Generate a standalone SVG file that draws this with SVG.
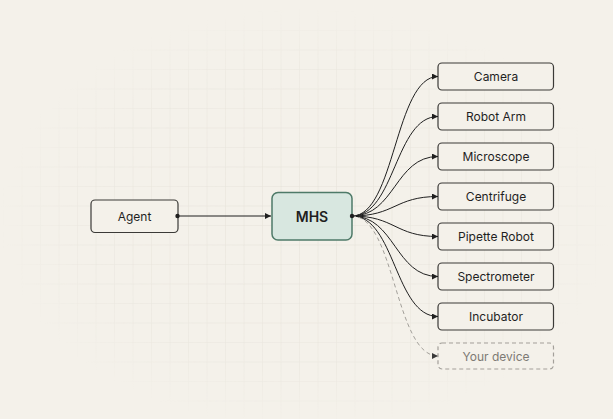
<svg xmlns="http://www.w3.org/2000/svg" width="613" height="419" viewBox="0 0 613 419">
<defs>
<pattern id="grid" width="18.5" height="19.5" patternUnits="userSpaceOnUse" x="4" y="-8">
<path d="M18.5 0V19.5M0 19.5H18.5" fill="none" stroke="#e4e0d7" stroke-width="1"/>
</pattern>
<radialGradient id="fade" cx="0.5" cy="0.52" r="0.5">
<stop offset="0" stop-color="#fff" stop-opacity="1"/>
<stop offset="0.75" stop-color="#fff" stop-opacity="0.6"/>
<stop offset="1" stop-color="#fff" stop-opacity="0"/>
</radialGradient>
<mask id="m"><rect width="613" height="419" fill="url(#fade)"/></mask>
<marker id="arr" viewBox="0 0 6 6" refX="6" refY="3" markerWidth="6" markerHeight="6" orient="auto" markerUnits="userSpaceOnUse">
<path d="M0 0L6 3L0 6Z" fill="#1f1f1f"/>
</marker>
<marker id="arrg" viewBox="0 0 6 6" refX="6" refY="3" markerWidth="6" markerHeight="6" orient="auto" markerUnits="userSpaceOnUse">
<path d="M0 0L6 3L0 6Z" fill="#3a3a3a"/>
</marker>
</defs>
<style>
.box{fill:#f4f1ea;stroke:#3b3a37;stroke-width:1.2}
.dash{fill:#f4f1ea;stroke:#a3a09a;stroke-width:1.2;stroke-dasharray:4 3}
.lbl{font-family:Inter,"Liberation Sans",sans-serif;font-size:12px;fill:#1f1f1f;text-anchor:middle;dominant-baseline:central}
.glbl{font-family:Inter,"Liberation Sans",sans-serif;font-size:12px;fill:#7d7a74;text-anchor:middle;dominant-baseline:central}
.c{fill:none;stroke:#1f1f1f;stroke-width:1}
.cd{fill:none;stroke:#a3a09a;stroke-width:1;stroke-dasharray:4 3}
</style>
<rect width="613" height="419" fill="#f4f1ea"/>
<rect width="613" height="419" fill="url(#grid)" mask="url(#m)"/>
<g id="agent"><rect class="box" x="91" y="200" width="87" height="32.5" rx="4"/><text class="lbl" x="134.5" y="216.5">Agent</text></g>
<g id="mhs"><rect x="272" y="192.5" width="80" height="47.5" rx="6" fill="#d8e7e0" stroke="#4e7a68" stroke-width="1.5"/><text class="lbl" x="312" y="216.5" style="font-size:14px;font-weight:600">MHS</text></g>
<g id="camera"><rect class="box" x="438" y="63" width="115.5" height="27" rx="4"/><text class="lbl" x="496" y="76.5">Camera</text></g>
<g id="robot-arm"><rect class="box" x="438" y="103" width="115.5" height="27" rx="4"/><text class="lbl" x="496" y="116.5">Robot Arm</text></g>
<g id="microscope"><rect class="box" x="438" y="143" width="115.5" height="27" rx="4"/><text class="lbl" x="496" y="156.5">Microscope</text></g>
<g id="centrifuge"><rect class="box" x="438" y="183" width="115.5" height="27" rx="4"/><text class="lbl" x="496" y="196.5">Centrifuge</text></g>
<g id="pipette-robot"><rect class="box" x="438" y="223" width="115.5" height="27" rx="4"/><text class="lbl" x="496" y="236.5">Pipette Robot</text></g>
<g id="spectrometer"><rect class="box" x="438" y="263" width="115.5" height="27" rx="4"/><text class="lbl" x="496" y="276.5">Spectrometer</text></g>
<g id="incubator"><rect class="box" x="438" y="303" width="115.5" height="27" rx="4"/><text class="lbl" x="496" y="316.5">Incubator</text></g>
<g id="your-device"><rect class="dash" x="438" y="343" width="115.5" height="26" rx="4"/><text class="glbl" x="496" y="356">Your device</text></g>
<g id="connectors">
<path class="c" d="M177 216H271" marker-end="url(#arr)"/>
<path class="c" d="M352 216C395 216 395 76.5 438 76.5" marker-end="url(#arr)"/>
<path class="c" d="M352 216C395 216 395 116.5 438 116.5" marker-end="url(#arr)"/>
<path class="c" d="M352 216C395 216 395 156.5 438 156.5" marker-end="url(#arr)"/>
<path class="c" d="M352 216C395 216 395 196.5 438 196.5" marker-end="url(#arr)"/>
<path class="c" d="M352 216C395 216 395 236.5 438 236.5" marker-end="url(#arr)"/>
<path class="c" d="M352 216C395 216 395 276.5 438 276.5" marker-end="url(#arr)"/>
<path class="c" d="M352 216C395 216 395 316.5 438 316.5" marker-end="url(#arr)"/>
<path class="cd" d="M352 216C395 216 395 356 438 356" marker-end="url(#arrg)"/>
<circle cx="177.5" cy="216" r="2.2" fill="#1f1f1f"/>
<circle cx="352" cy="216" r="2.2" fill="#1f1f1f"/>
</g>
</svg>
